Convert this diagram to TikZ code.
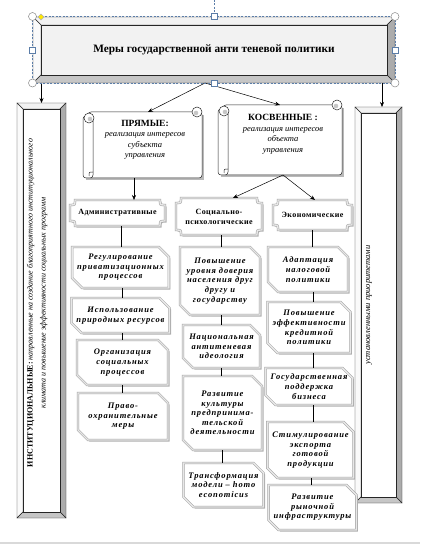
\documentclass[tikz,border=0pt]{standalone}
\usepackage{fontspec}
\setmainfont{Liberation Serif}
\newfontfamily\wideserif[LetterSpace=10]{Liberation Serif}
\newfontfamily\midserif[LetterSpace=5]{Liberation Serif}
\usetikzlibrary{shapes.misc,shadows,arrows.meta,backgrounds,calc}
\definecolor{hdl}{HTML}{5B7DA8}
\definecolor{hdlc}{HTML}{8A8A8A}
\newcommand\mybevel[6]{%
 \filldraw[bev, fill=gray!10] (#1,#2) -- (#3,#2) -- ({#3-#5},{#2+#5}) -- ({#1+#5},{#2+#5}) -- cycle;
 \filldraw[bev, fill=gray!4] (#1,#2) -- ({#1+#5},{#2+#5}) -- ({#1+#5},{#4-#5}) -- (#1,#4) -- cycle;
 \filldraw[bev, fill=gray!65] (#3,#2) -- (#3,#4) -- ({#3-#5},{#4-#5}) -- ({#3-#5},{#2+#5}) -- cycle;
 \filldraw[bev, fill=gray!45] (#1,#4) -- (#3,#4) -- ({#3-#5},{#4-#5}) -- ({#1+#5},{#4-#5}) -- cycle;
 \filldraw[bev, fill=#6] ({#1+#5},{#2+#5}) rectangle ({#3-#5},{#4-#5});}
\newcommand\myscroll[4]{%
 \fill[gray!55] ({#1+3},{#2+3}) rectangle ({#3+2},{#4+2});
 \draw[scl, fill=white, rounded corners=3] ({#1+5},{#2}) -- (#3,#2) -- (#3,#4) -- ({#1+5},#4) -- cycle;
 \draw[scl, fill=white] ({#3-5},{#2}) circle[radius=5];
 \fill[gray!45] ({#3-6},{#2+1}) circle[radius=2.3];
 \draw[scl, fill=white, rounded corners=3] ({#1+5},{#2+4}) -- (#1,{#2+4}) -- (#1,#4) -- ({#1+10},#4) -- ({#1+10},{#2+6});
 \draw[scl, fill=white] ({#1+6},{#2+6}) circle[radius=5];
 \fill[gray!45] ({#1+7},{#2+7}) circle[radius=2.3];
 \draw[scl] ({#1+10},{#4-6}) .. controls ({#1+6},{#4-6}) .. ({#1+6},{#4-2});}
\newcommand\myplaque[1]{($(#1.north west)+(0,5)$) .. controls +(5,0) .. ($(#1.north west)+(5,0)$) -- ($(#1.north east)+(-5,0)$) .. controls +(0,5) .. ($(#1.north east)+(0,5)$) -- ($(#1.south east)+(0,-5)$) .. controls +(-5,0) .. ($(#1.south east)+(-5,0)$) -- ($(#1.south west)+(5,0)$) .. controls +(0,-5) .. ($(#1.south west)+(0,-5)$) -- cycle}
\begin{document}
\begin{tikzpicture}[x=1pt,y=-1pt,
  every node/.style={inner sep=0pt, outer sep=0pt},
  arr/.style={-{Stealth[length=5pt,width=4pt]}, line width=0.5pt},
  ln/.style={line width=0.6pt},
  bev/.style={draw=black!85, line width=0.4pt},
  scl/.style={draw=black!85, line width=0.5pt},
  itembox/.style={chamfered rectangle, chamfered rectangle corners={north east,south west},
    chamfered rectangle sep=5pt, draw=gray!75, double=gray!18, double distance=1.4pt,
    line width=0.5pt, fill=white,
    drop shadow={shadow xshift=1.5pt, shadow yshift=-1.5pt, fill=gray!55, opacity=1},
    align=center, font=\wideserif\fontsize{8.5}{9.6}\selectfont\bfseries\itshape},
  levbox/.style={align=center, font=\midserif\fontsize{8}{9.8}\selectfont\bfseries},
  plq/.style={draw=gray!75, double=gray!18, double distance=1.4pt, line width=0.5pt, fill=white,
    drop shadow={shadow xshift=1.5pt, shadow yshift=-1.5pt, fill=gray!55, opacity=1}},
  scrtext/.style={align=center, font=\fontsize{8.5}{10.5}\selectfont\itshape}
]
\useasboundingbox (0,0) rectangle (420,545);

% title
\node[minimum width=362pt, minimum height=66pt, font=\fontsize{11.3}{13}\selectfont\bfseries] (title) at (214,50) {Меры государственной анти теневой политики};

% side bars
\node[minimum width=49pt, minimum height=415pt] (lbar) at (41.5,310.5) {};
\node[rotate=90, align=center, font=\fontsize{8}{13}\selectfont\itshape] (lbart) at (37,303)
 {\textbf{\upshape ИНСТИТУЦИОНАЛЬНЫЕ:} направленные на создание благоприятного институционального\\климата и повышение эффективности социальных программ};
\node[minimum width=47pt, minimum height=396pt] (rbar) at (378.5,305) {};
\node[rotate=90, font=\fontsize{8.5}{10}\selectfont\itshape] (rbart) at (369,305) {установленными приоритетами};

% scrolls
\node[minimum width=119pt, minimum height=66pt] (pr) at (142.5,145) {};
\node[scrtext] (prt) at (145,140) {{\upshape\bfseries\fontsize{9.5}{10.5}\selectfont ПРЯМЫЕ:}\\реализация интересов\\субъекта\\управления};
\node[minimum width=124pt, minimum height=70pt] (kos) at (280,140) {};
\node[scrtext] (kost) at (283,134.5) {{\upshape\bfseries\fontsize{9.5}{10.5}\selectfont КОСВЕННЫЕ :}\\реализация интересов\\объекта\\управления};

% level boxes
\node[levbox, minimum width=95pt, minimum height=26pt] (adm) at (117.5,213) {Административные};
\node[levbox, minimum width=86pt, minimum height=37pt] (soc) at (219,216.5) {Социально-\\психологические};
\node[levbox, minimum width=79pt, minimum height=30pt] (eco) at (312.5,215) {Экономические};

% column 1
\node[itembox, minimum width=95pt, minimum height=41pt] (a1) at (120.5,267.5) {Регулирование\\приватизационных\\процессов};
\node[itembox, minimum width=95pt, minimum height=35pt] (a2) at (120.5,315.5) {Использование\\природных ресурсов};
\node[itembox, minimum width=91pt, minimum height=45pt] (a3) at (122.5,362.5) {Организация\\социальных\\процессов};
\node[itembox, minimum width=90pt, minimum height=47pt] (a4) at (123,416.5) {Право-\\охранительные\\меры};
% column 2
\node[itembox, minimum width=80pt, minimum height=68pt] (b1) at (220,281) {Повышение\\уровня доверия\\населения друг\\другу и\\государству};
\node[itembox, minimum width=77pt, minimum height=43pt] (b2) at (221.5,346.5) {Национальная\\антитеневая\\идеология};
\node[itembox, minimum width=79pt, minimum height=74pt] (b3) at (222.5,413) {Развитие\\культуры\\предпринима-\\тельской\\деятельности};
\node[itembox, minimum width=79pt, minimum height=44pt] (b4) at (223.5,485) {Трансформация\\модели – homo\\economicus};
% column 3
\node[itembox, minimum width=80pt, minimum height=45pt] (c1) at (308,269.5) {Адаптация\\налоговой\\политики};
\node[itembox, minimum width=82pt, minimum height=51pt] (c2) at (309,327.5) {Повышение\\эффективности\\кредитной\\политики};
\node[itembox, minimum width=82pt, minimum height=37pt] (c3) at (309,386.5) {Государственная\\поддержка\\бизнеса};
\node[itembox, minimum width=85pt, minimum height=56pt] (c4) at (310.5,450) {Стимулирование\\экспорта\\готовой\\продукции};
\node[itembox, minimum width=85pt, minimum height=45pt] (c5) at (312.5,507.5) {Развитие\\рыночной\\инфраструктуры};

\begin{scope}[on background layer]
 \mybevel{33}{17}{395}{83}{8}{gray!10}
 \mybevel{17}{103}{66}{518}{6}{white}
 \mybevel{355}{107}{402}{503}{6}{white}
 \myscroll{83}{112}{202}{178}
 \myscroll{218}{105}{342}{175}
 \draw[plq] \myplaque{adm};
 \draw[plq] \myplaque{soc};
 \draw[plq] \myplaque{eco};
\end{scope}

% connectors
\draw[arr] ([xshift=-9pt]title.south) -- ([xshift=5.5pt]pr.north);
\draw[arr] ([xshift=-9pt]title.south) -- (kos.north);
\draw[arr] (title.south -| lbar.north) -- (lbar.north);
\draw[arr] ([xshift=3.5pt]title.south -| rbar.north) -- ([xshift=3.5pt]rbar.north);
\draw[arr] ([xshift=-8.5pt]pr.south) -- ([xshift=-8.5pt]pr.south |- adm.north);
\draw[arr] ([xshift=3pt]kos.south) -- ([xshift=14pt]soc.north);
\draw[arr] ([xshift=3pt]kos.south) -- ([xshift=2.5pt]eco.north);

\draw[ln] ([xshift=4pt]adm.south) -- ([xshift=4pt]adm.south |- a1.north);
\draw[ln] ([xshift=1.5pt]a1.south) -- ([xshift=1.5pt]a1.south |- a2.north);
\draw[ln] ([xshift=1.5pt]a2.south) -- ([xshift=1.5pt]a2.south |- a3.north);
\draw[ln] (a3.south) -- (a3.south |- a4.north);
\draw[ln] ([xshift=2pt]soc.south) -- ([xshift=2pt]soc.south |- b1.north);
\draw[ln] ([xshift=1pt]b1.south) -- ([xshift=1pt]b1.south |- b2.north);
\draw[ln] (b2.south) -- (b2.south |- b3.north);
\draw[ln] (b3.south) -- (b3.south |- b4.north);
\draw[ln] (eco.south) -- (eco.south |- c1.north);
\draw[ln] ([xshift=5pt]c1.south) -- ([xshift=5pt]c1.south |- c2.north);
\draw[ln] ([xshift=4pt]c2.south) -- ([xshift=4pt]c2.south |- c3.north);
\draw[ln] ([xshift=4pt]c3.south) -- ([xshift=4pt]c3.south |- c4.north);
\draw[ln] ([xshift=1pt]c4.south) -- ([xshift=1pt]c4.south |- c5.north);

% selection frame and handles
\draw[hdl, line width=0.6pt, dash pattern=on 2pt off 1.5pt] (32.5,16.5) rectangle (395,83);
\draw[hdl, line width=0.6pt, dash pattern=on 2pt off 1.5pt] (214,0) -- (214,12);
\foreach \p in {(32.5,16.5),(395,16.5),(32.5,83),(395,83)}
  \filldraw[draw=hdlc, fill=white, line width=0.5pt] \p circle[radius=4];
\foreach \p in {(214,16.5),(32.5,50),(395,50),(214,83)}
  \filldraw[draw=hdl, fill=white, line width=0.6pt] \p ++(-3,-3) rectangle ++(6,6);
\filldraw[draw=gray!60, fill=yellow!90!orange, line width=0.4pt] (41,14) -- (44,17) -- (41,20) -- (38,17) -- cycle;

\draw[gray!30, line width=1.5pt] (0,543) -- (420,543);
\end{tikzpicture}
\end{document}
